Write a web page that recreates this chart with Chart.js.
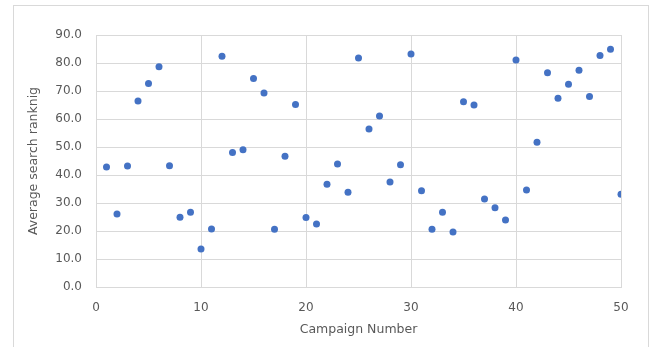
<!DOCTYPE html>
<html>
<head>
<meta charset="utf-8">
<script src="https://cdn.jsdelivr.net/npm/chart.js@4"></script>
<style>
  html, body { margin: 0; padding: 0; background: #ffffff; }
  #wrap { position: relative; width: 653px; height: 347px; overflow: hidden; }
  #frame { position: absolute; left: 13px; top: 5px; width: 634px; height: 360px; border: 1px solid #d9d9d9; }
  canvas { position: absolute; left: 0; top: 0; }
</style>
</head>
<body>
<div id="wrap">
  <div id="frame"></div>
  <canvas id="chart" width="653" height="347"></canvas>
</div>
<script>
// campaign numbers 1..50 and the average search ranking
const campaigns = [
  1, 2, 3, 4, 5, 6, 7, 8, 9, 10,
  11, 12, 13, 14, 15, 16, 17, 18, 19, 20,
  21, 22, 23, 24, 25, 26, 27, 28, 29, 30,
  31, 32, 33, 34, 35, 36, 37, 38, 39, 40,
  41, 42, 43, 44, 45, 46, 47, 48, 49, 50
];
const ranking = [
  42.9, 26.1, 43.2, 66.4, 72.7, 78.7, 43.3, 24.9, 26.7, 13.6,
  20.7, 82.4, 48.0, 49.0, 74.5, 69.3, 20.6, 46.7, 65.2, 24.8,
  22.5, 36.7, 43.9, 33.8, 81.8, 56.4, 61.1, 37.5, 43.7, 83.2,
  34.4, 20.6, 26.7, 19.6, 66.2, 65.0, 31.4, 28.3, 23.9, 81.1,
  34.6, 51.7, 76.5, 67.4, 72.4, 77.4, 68.0, 82.7, 84.9, 33.1
];
const xTitle = "Campaign Number";
const yTitle = "Average search ranknig";

const points = campaigns.map(function (c, i) {
  return { x: c, y: ranking[i] };
});

const gray = "#595959";
const gridColor = "#d9d9d9";
Chart.defaults.font.family = "'DejaVu Sans', sans-serif";
Chart.defaults.font.size = 12;
Chart.defaults.color = gray;

new Chart(document.getElementById("chart").getContext("2d"), {
  type: "scatter",
  data: {
    datasets: [
      {
        data: points,
        backgroundColor: "#4472C4",
        borderColor: "#4472C4",
        pointRadius: 3.5,
        pointHoverRadius: 3.5,
        borderWidth: 0,
      },
    ],
  },
  options: {
    responsive: false,
    animation: false,
    layout: { padding: { left: 0, top: 35, right: 32, bottom: 0 } },
    plugins: {
      legend: { display: false },
      tooltip: { enabled: false },
    },
    scales: {
      x: {
        type: "linear",
        min: 0,
        max: 50,
        afterFit: function (scale) { scale.height = 60; },
        grid: { color: gridColor, drawTicks: false },
        border: { color: gridColor },
        ticks: { stepSize: 10, padding: 14, color: gray },
        title: { display: true, text: xTitle, color: gray, font: { size: 12.5 }, padding: { top: 0, bottom: 10 } },
      },
      y: {
        min: 0,
        max: 90,
        afterFit: function (scale) { scale.width = 96; },
        grid: { color: gridColor, drawTicks: false },
        border: { color: gridColor },
        ticks: {
          stepSize: 10,
          padding: 14,
          color: gray,
          callback: function (v) { return v.toFixed(1); },
        },
        title: { display: true, text: yTitle, color: gray, font: { size: 12.5 }, padding: { top: 26, bottom: 0 } },
      },
    },
  },
});
</script>
</body>
</html>
